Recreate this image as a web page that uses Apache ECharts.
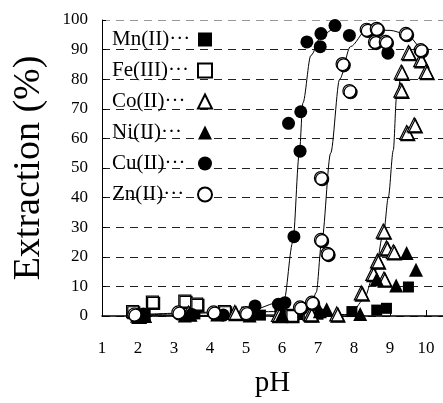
<!DOCTYPE html>
<html>
<head>
<meta charset="utf-8">
<script src="https://cdn.jsdelivr.net/npm/echarts@6/dist/echarts.min.js"></script>
<style>
  html, body { margin: 0; padding: 0; background: #fff; }
  #chart { width: 443px; height: 403px; }
</style>
</head>
<body>
<div id="chart"></div>
<script>
// pH / extraction (%) pairs
var mnData = [[2.2, 0.2], [3.58, 0.7], [4.6, 0.5], [5.4, 0.3], [5.94, 0.7], [6.5, 0.5], [7.0, 0.6], [7.94, 1.5], [8.63, 2.0], [8.9, 2.6], [9.51, 9.8]];
var feData = [[1.85, 1.5], [2.4, 4.7], [3.3, 5.0], [3.63, 4.0], [4.4, 1.5], [5.05, 1.0], [6.27, 0.2], [6.75, 0.5]];
var coData = [[2.0, 0.3], [3.4, 1.0], [4.69, 1.2], [5.9, 0.5], [6.8, 0.7], [7.52, 0.7], [8.2, 7.8], [8.52, 14.4], [8.65, 18.6], [8.81, 28.7], [8.83, 12.5], [8.9, 23.0], [9.09, 21.7], [9.3, 76.3], [9.31, 82.4], [9.46, 62.0], [9.51, 89.0], [9.67, 64.6], [9.85, 86.6], [10.0, 82.6]];
var niData = [[2.2, 0.0], [3.3, 0.2], [4.2, 0.5], [5.1, 0.2], [6.0, 0.5], [7.05, 1.6], [7.24, 2.3], [8.17, 0.7], [8.63, 12.5], [9.17, 10.3], [9.46, 21.3], [9.72, 15.6]];
var cuData = [[2.15, 0.7], [3.5, 0.5], [4.37, 0.3], [5.25, 3.4], [5.9, 4.0], [6.08, 4.5], [6.18, 65.1], [6.33, 26.8], [6.5, 55.7], [6.52, 69.0], [6.69, 92.6], [7.06, 91.0], [7.08, 95.4], [7.47, 98.1], [7.87, 94.8], [8.94, 88.8]];
var znData = [[1.9, 0.5], [3.12, 1.2], [4.1, 1.2], [5.0, 1.0], [6.5, 2.9], [6.83, 4.5], [7.08, 25.7], [7.08, 46.6], [7.26, 21.0], [7.68, 85.1], [7.87, 76.0], [8.35, 96.7], [8.58, 92.6], [8.63, 97.0], [8.88, 92.6], [9.44, 95.3], [9.85, 89.8]];

// hand-drawn trend curves
var cuCurve = [[2.0, 0.5], [5.0, 1.5], [6.05, 5], [6.3, 25], [6.48, 55], [6.58, 72], [6.8, 88], [7.1, 95], [7.5, 98]];
var znCurve = [[2.0, 0.3], [6.0, 1.5], [6.8, 3], [6.95, 8], [7.1, 25], [7.35, 55], [7.6, 80], [7.9, 91], [8.35, 96.7], [9.0, 96.5], [9.44, 95.3], [9.85, 89.8]];
var coCurve = [[2.0, 0.0], [7.9, 0.5], [8.26, 5.4], [8.58, 15], [8.83, 29], [8.95, 40], [9.09, 56], [9.18, 74], [9.3, 82]];

var metalNames = ['Mn(II)', 'Fe(III)', 'Co(II)', 'Ni(II)', 'Cu(II)', 'Zn(II)'];

var serif = 'Liberation Serif';
var filled = { color: '#000', opacity: 1 };
var hollow = { color: '#fff', opacity: 1, borderColor: '#000', borderWidth: 1.2, shadowColor: '#000', shadowOffsetX: 1.2, shadowOffsetY: 1.2, shadowBlur: 0 };

function dots(name, data, symbol, size, style) {
    return {
        name: name,
        type: 'scatter',
        data: data,
        symbol: symbol,
        symbolSize: size,
        itemStyle: style,
        z: 3
    };
}

function curve(data) {
    return {
        type: 'line',
        data: data,
        showSymbol: false,
        symbol: 'none',
        smooth: 0.3,
        smoothMonotone: 'x',
        silent: true,
        lineStyle: { color: '#000', width: 1 },
        z: 2
    };
}

var gridColors = [];
for (var i = 0; i < 11; i++) gridColors.push(i === 10 ? '#999' : '#222');

var myChart = echarts.init(document.getElementById('chart'));
option = {
    animation: false,
    backgroundColor: '#fff',
    textStyle: { fontFamily: serif },
    grid: {
        left: 102,
        top: 20,
        width: 341,
        height: 303
    },
    legend: {
        orient: 'vertical',
        left: 107,
        top: 24,
        align: 'right',
        itemWidth: 14,
        itemHeight: 14,
        itemGap: 10,
        data: metalNames,
        formatter: function (name) {
            return '{t|' + name + '\u00b7\u00b7\u00b7}';
        },
        textStyle: {
            fontFamily: serif, fontSize: 21, color: '#000',
            rich: { t: { width: 81, align: 'left', fontFamily: serif, fontSize: 21, color: '#000' } }
        }
    },
    xAxis: {
        type: 'value',
        min: 1,
        max: 10.47,
        interval: 1,
        name: 'pH',
        nameLocation: 'middle',
        nameGap: 53,
        nameTextStyle: { fontFamily: serif, fontSize: 29, color: '#000' },
        axisLine: { show: true, lineStyle: { color: '#000', width: 1.5 } },
        axisTick: { show: true, inside: true, length: 6, lineStyle: { color: '#000' } },
        axisLabel: {
            margin: 24,
            fontFamily: serif,
            fontSize: 17,
            color: '#000',
            showMaxLabel: false,
            formatter: function (v) {
                return Number.isInteger(v) ? String(v) : '';
            }
        },
        splitLine: { show: false }
    },
    yAxis: {
        type: 'value',
        min: 0,
        max: 100,
        interval: 10,
        name: 'Extraction (%)',
        nameLocation: 'middle',
        nameGap: 54,
        nameTextStyle: { fontFamily: serif, fontSize: 38, color: '#000' },
        axisLine: { show: true, lineStyle: { color: '#000', width: 1 } },
        axisTick: { show: true, inside: true, length: 4, lineStyle: { color: '#000' } },
        axisLabel: { margin: 14, fontFamily: serif, fontSize: 17, color: '#000' },
        splitLine: { show: true, lineStyle: { color: gridColors, type: [8, 6], width: 1 } }
    },
    series: [
        curve(cuCurve),
        curve(znCurve),
        curve(coCurve),
        dots('Mn(II)', mnData, 'rect', 11, filled),
        dots('Fe(III)', feData, 'rect', 12, hollow),
        dots('Co(II)', coData, 'triangle', 14, hollow),
        dots('Ni(II)', niData, 'triangle', 14, filled),
        dots('Cu(II)', cuData, 'circle', 13, filled),
        dots('Zn(II)', znData, 'circle', 13, hollow)
    ]
};
myChart.setOption(option);
</script>
</body>
</html>
